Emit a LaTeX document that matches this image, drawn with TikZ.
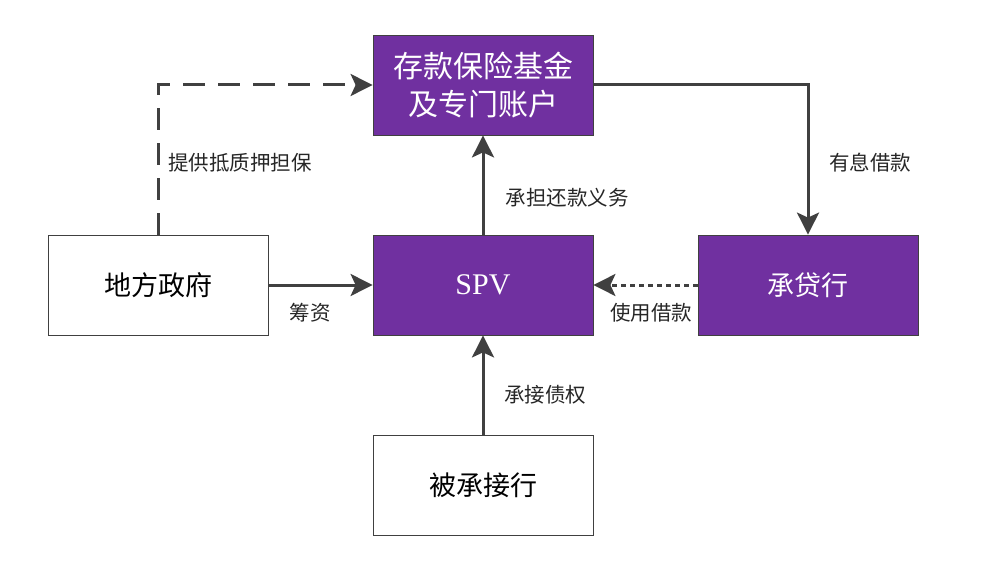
\documentclass[tikz,border=0pt]{standalone}
\usepackage{fontspec}
\setmainfont{Liberation Serif}
\newfontfamily\cjk{Noto Sans CJK SC}
\usetikzlibrary{arrows.meta,calc}
\definecolor{boxpurple}{HTML}{7030A0}
\definecolor{linegray}{HTML}{404040}

\begin{document}
\begin{tikzpicture}[x=1pt, y=-1pt,
  box/.style={draw=linegray, line width=0.8pt, minimum width=220pt, minimum height=100pt,
    inner sep=0pt, align=center, font=\cjk\fontsize{27}{38}\selectfont},
  darkbox/.style={box, fill=boxpurple, text=white},
  flow/.style={draw=linegray, line width=3pt, -{Stealth[length=22pt, width=22pt, inset=5pt]}},
  lbl/.style={font=\cjk\fontsize{20.5}{24}\selectfont, text=black!85}]
\useasboundingbox (0,0) rectangle (987,569);
% boxes
\node[darkbox, font=\cjk\fontsize{30}{38}\selectfont] (fund) at (483,85) {存款保险基金\\及专门账户};
\node[box] (gov) at (158,285) {地方政府};
\node[darkbox, font=\fontsize{30}{34}\selectfont] (spv) at (483,285) {SPV};
\node[darkbox] (lend) at (808,285) {承贷行};
\node[box] (recv) at (483,485) {被承接行};
% connectors
\draw[flow, dash pattern=on 22pt off 13pt] (gov.north) -- (gov.north |- fund.west) -- (fund.west);
\draw[flow] (gov.east) -- (spv.west);
\draw[flow] (spv.north) -- (fund.south);
\draw[flow] (fund.east) -- (fund.east -| lend.north) -- (lend.north);
\draw[flow, dash pattern=on 5pt off 4pt] (lend.west) -- (spv.east);
\draw[flow] (recv.north) -- (spv.south);
% labels
\node[lbl] (guar) at (240,163) {提供抵质押担保};
\node[lbl] (repay) at (567,198) {承担还款义务};
\node[lbl] (loan) at (870,163) {有息借款};
\node[lbl] (raise) at (310,313) {筹资};
\node[lbl] (use) at (651,313) {使用借款};
\node[lbl] (take) at (545,395) {承接债权};
\end{tikzpicture}
\end{document}
